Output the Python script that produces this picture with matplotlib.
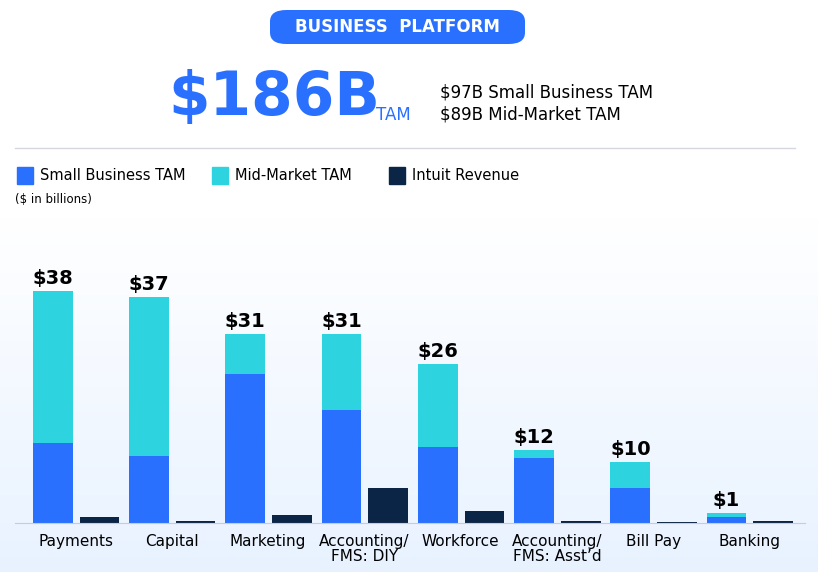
import numpy as np
import matplotlib
matplotlib.use("Agg")
import matplotlib.pyplot as plt
from matplotlib.patches import FancyBboxPatch

CATS = ['Payments', 'Capital', 'Marketing', 'Accounting/\nFMS: DIY', 'Workforce',
        'Accounting/\nFMS: Asst\u2019d', 'Bill Pay', 'Banking']
SMALL = [13.1, 11.0, 24.4, 18.5, 12.5, 10.7, 5.7, 1.0]
MID = [24.9, 26.0, 6.6, 12.5, 13.5, 1.3, 4.3, 0.6]
REV = [1.0, 0.3, 1.3, 5.7, 2.0, 0.3, 0.2, 0.3]
TOTAL_LABELS = ['$38', '$37', '$31', '$31', '$26', '$12', '$10', '$1']

C_SMALL, C_MID, C_REV = '#2970ff', '#2ed3e0', '#0b2546'

fig = plt.figure(figsize=(8.18, 5.72), dpi=100)
W, H = 818, 572

# gradient background in lower half
bg = fig.add_axes([0, 0, 1, 1], zorder=-10)
grad = np.linspace(1, 0, 256).reshape(-1, 1)
bg.imshow(np.dstack([0.91 + 0.09 * grad, 0.95 + 0.05 * grad, np.ones_like(grad)]),
          extent=[0, 1, 0, 0.62], aspect='auto')
bg.set_xlim(0, 1); bg.set_ylim(0, 1); bg.axis('off')

# header pill
pill = FancyBboxPatch((270 / W, 1 - 44 / H), 255 / W, 34 / H,
                      boxstyle='round,pad=0,rounding_size=0.02', transform=fig.transFigure,
                      fc=C_SMALL, ec='none')
fig.patches.append(pill)
fig.text(397 / W, 1 - 27 / H, 'BUSINESS  PLATFORM', color='white', fontsize=12,
         fontweight='bold', ha='center', va='center')
fig.text(168 / W, 1 - 98 / H, '$186B', color=C_SMALL, fontsize=43, fontweight='bold',
         ha='left', va='center')
fig.text(376 / W, 1 - 115 / H, 'TAM', color=C_SMALL, fontsize=12, ha='left', va='center')
fig.text(440 / W, 1 - 92 / H, '$97B Small Business TAM', fontsize=12, ha='left', va='center')
fig.text(440 / W, 1 - 115 / H, '$89B Mid-Market TAM', fontsize=12, ha='left', va='center')
fig.add_artist(plt.Line2D([15 / W, 795 / W], [1 - 148 / H] * 2, color='#d5d8de', lw=1))

# legend
for x, c, t in [(17, C_SMALL, 'Small Business TAM'), (212, C_MID, 'Mid-Market TAM'),
                (389, C_REV, 'Intuit Revenue')]:
    fig.patches.append(plt.Rectangle((x / W, 1 - 184 / H), 16 / W, 17 / H,
                                     transform=fig.transFigure, color=c))
    fig.text((x + 23) / W, 1 - 176 / H, t, fontsize=10.5, ha='left', va='center')
fig.text(15 / W, 1 - 200 / H, '($ in billions)', fontsize=8.5, ha='left', va='center')

ax = fig.add_axes([15 / W, 1 - 523 / H, 790 / W, 293 / H])
ax.patch.set_alpha(0)
x = np.arange(len(CATS)) * 97.0
bw = 40
ax.bar(x, SMALL, bw, color=C_SMALL)
ax.bar(x, MID, bw, bottom=SMALL, color=C_MID)
ax.bar(x + 47, REV, bw, color=C_REV)
for xi, s, m, lab in zip(x, SMALL, MID, TOTAL_LABELS):
    ax.text(xi, s + m + 0.5, lab, ha='center', va='bottom', fontsize=14, fontweight='bold')
ax.set_xlim(-38, x[-1] + 79)
ax.set_ylim(0, 293 / 6.1)
ax.set_xticks(x + 23)
ax.set_xticklabels(CATS, fontsize=11, linespacing=1.0)
ax.tick_params(axis='x', length=0, pad=8)
ax.set_yticks([])
for s in ['top', 'left', 'right']:
    ax.spines[s].set_visible(False)
ax.spines['bottom'].set_color('#c9ccd2')

fig.savefig('out.png', dpi=100)
